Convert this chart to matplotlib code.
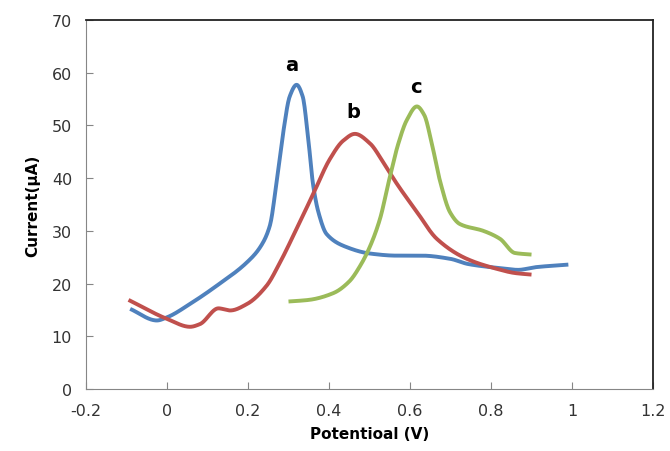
import numpy as np
import matplotlib
matplotlib.use('Agg')
import matplotlib.pyplot as plt

# curva a (azul)
xa = [-0.091, -0.025, 0.0, 0.06, 0.123, 0.197, 0.23, 0.254, 0.271, 0.287, 0.303, 0.32,
      0.335, 0.348, 0.361, 0.374, 0.394, 0.444, 0.501, 0.567, 0.629, 0.699, 0.744,
      0.826, 0.867, 0.909, 0.991]
ya = [15.2, 13.0, 13.6, 16.3, 19.6, 24.0, 26.9, 31.0, 39.5, 48.7, 55.5, 57.7,
      55.5, 48.0, 38.6, 33.5, 29.4, 26.9, 25.7, 25.3, 25.3, 24.7, 23.7,
      22.9, 22.6, 23.1, 23.6]

# curva b (roja)
xb = [-0.095, 0.0, 0.057, 0.081, 0.127, 0.156, 0.197, 0.246, 0.279, 0.32,
      0.361, 0.402, 0.435, 0.464, 0.501, 0.534, 0.567, 0.617, 0.666, 0.74,
      0.814, 0.859, 0.9]
yb = [16.9, 13.3, 11.8, 12.3, 15.3, 14.9, 16.1, 19.6, 24.0, 30.4,
      37.0, 43.6, 47.1, 48.4, 46.6, 43.0, 39.0, 33.6, 28.5, 24.7,
      22.8, 22.0, 21.7]

# curva c (verde)
xc = [0.3, 0.35, 0.411, 0.45, 0.478, 0.501, 0.526, 0.548, 0.571, 0.592, 0.617, 0.635,
      0.654, 0.674, 0.699, 0.723, 0.781, 0.822, 0.859, 0.9]
yc = [16.6, 16.9, 18.2, 20.4, 23.5, 27.0, 32.3, 39.5, 46.5, 51.0, 53.6, 52.0,
      46.5, 39.5, 33.5, 31.3, 30.0, 28.5, 25.8, 25.5]

etiquetas = ['a', 'b', 'c']
pos_etiq = [(0.309, 61.6), (0.459, 52.6), (0.615, 57.3)]


def pchip(x, y, n=800):
    # interpolacion cubica monotona (Fritsch-Carlson)
    x = np.asarray(x, float); y = np.asarray(y, float)
    h = np.diff(x); d = np.diff(y)/h
    m = np.zeros_like(y)
    for i in range(1, len(x)-1):
        if d[i-1]*d[i] > 0:
            w1 = 2*h[i] + h[i-1]; w2 = h[i] + 2*h[i-1]
            m[i] = (w1+w2)/(w1/d[i-1] + w2/d[i])
    m[0] = d[0]; m[-1] = d[-1]
    xs = np.linspace(x[0], x[-1], n)
    k = np.clip(np.searchsorted(x, xs) - 1, 0, len(x)-2)
    t = (xs - x[k])/h[k]
    h00 = 2*t**3 - 3*t**2 + 1; h10 = t**3 - 2*t**2 + t
    h01 = -2*t**3 + 3*t**2; h11 = t**3 - t**2
    ys = h00*y[k] + h10*h[k]*m[k] + h01*y[k+1] + h11*h[k]*m[k+1]
    return xs, ys


fig = plt.figure(figsize=(6.7, 4.52), dpi=100)
ax = fig.add_axes([86/670, 1-390/452, (653-86)/670, (390-21)/452])

for x, y, c in ((xa, ya, '#4F81BD'), (xb, yb, '#C0504D'), (xc, yc, '#9BBB59')):
    sx, sy = pchip(x, y)
    ax.plot(sx, sy, color=c, lw=2.8, solid_capstyle='butt')

for t, (px, py) in zip(etiquetas, pos_etiq):
    ax.text(px, py, t, fontsize=14, fontweight='bold', ha='center', va='center')

ax.set_xlim(-0.2, 1.2)
ax.set_ylim(0, 70)
ax.set_xticks(np.arange(-0.2, 1.21, 0.2))
ax.set_xticklabels(['-0.2', '0', '0.2', '0.4', '0.6', '0.8', '1', '1.2'])
ax.set_yticks(range(0, 71, 10))
ax.tick_params(direction='in', length=5, color='#868686', labelsize=11.5,
               labelcolor='#333333', pad=10)
for s in ('left', 'bottom'):
    ax.spines[s].set_color('#868686')
for s in ('top', 'right'):
    ax.spines[s].set_color('#222222')
    ax.spines[s].set_linewidth(1.3)
ax.set_xlabel('Potentioal (V)', fontsize=11, fontweight='bold', labelpad=6)
ax.set_ylabel('Current(µA)', fontsize=11, fontweight='bold', labelpad=8)

fig.savefig('out.png', dpi=100)
